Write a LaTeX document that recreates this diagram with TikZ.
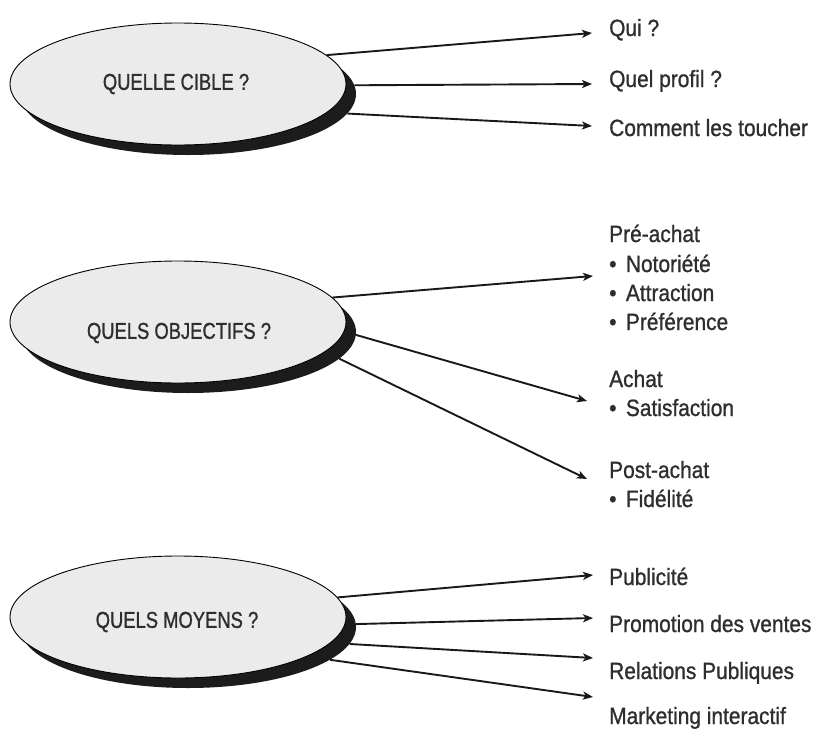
\documentclass[tikz,border=0pt]{standalone}
\usepackage{fontspec}
\setmainfont{Liberation Sans}[FakeStretch=0.89,FakeBold=1.0]
\newfontfamily\titlefont{Liberation Sans}[FakeStretch=0.8,FakeBold=1.0]
\usetikzlibrary{shapes.geometric,arrows.meta,backgrounds}
\definecolor{bubble}{HTML}{EBEBEB}
\definecolor{shade}{HTML}{1C1C1C}
\definecolor{ink}{HTML}{2E2E2E}
\begin{document}
\begin{tikzpicture}[x=1pt,y=-1pt,
  bubble/.style={ellipse,draw=black,line width=0.9pt,fill=bubble,
    minimum width=336pt,minimum height=122pt,inner sep=0pt},
  bubbleshade/.style={ellipse,fill=shade,
    minimum width=336pt,minimum height=122pt,inner sep=0pt},
  title/.style={font=\titlefont\fontsize{23}{26}\selectfont,text=ink,inner sep=0pt},
  item/.style={anchor=base west,font=\fontsize{23.5}{27}\selectfont,text=ink,inner sep=0pt},
  link/.style={line width=1.9pt,draw=black!90,
    -{Stealth[length=10pt,width=8pt,inset=2.5pt]}}]
\useasboundingbox (0,0) rectangle (822,731);
\def\gap{\hspace{0.4em}}

% --- Quelle cible ---
\node[bubbleshade] (cibleS) at (188,94) {};
\node[bubble] (cible) at (178,84) {};
\node[title] (cibleT) at (176,84) {QUELLE CIBLE ?};
\node[item] (qui) at (609,36) {Qui ?};
\node[item] (profil) at (609,87) {Quel profil ?};
\node[item] (toucher) at (609,136) {Comment les toucher};
\coordinate (e11) at (592,33);
\coordinate (e12) at (592,84);
\coordinate (e13) at (592,126);

% --- Quels objectifs ---
\node[bubbleshade] (objS) at (188,332) {};
\node[bubble] (obj) at (178,322) {};
\node[title] (objT) at (179,333) {QUELS OBJECTIFS ?};
\node[item] (pre) at (609,242) {Pré-achat};
\node[item] (noto) at (609,272) {•\gap Notoriété};
\node[item] (attr) at (609,301) {•\gap Attraction};
\node[item] (pref) at (609,330) {•\gap Préférence};
\node[item] (achat) at (609,387) {Achat};
\node[item] (satis) at (609,416) {•\gap Satisfaction};
\node[item] (post) at (609,478) {Post-achat};
\node[item] (fide) at (609,507) {•\gap Fidélité};
\coordinate (e21) at (593,276);
\coordinate (e22) at (587,401);
\coordinate (e23) at (587,479);

% --- Quels moyens ---
\node[bubbleshade] (moyS) at (188,627) {};
\node[bubble] (moy) at (178,617) {};
\node[title] (moyT) at (177,622) {QUELS MOYENS ?};
\node[item] (pub) at (609,585) {Publicité};
\node[item] (promo) at (609,632) {Promotion des ventes};
\node[item] (rp) at (609,679) {Relations Publiques};
\node[item] (mkt) at (609,724) {Marketing interactif};
\coordinate (e31) at (593,575);
\coordinate (e32) at (593,618);
\coordinate (e33) at (593,658);
\coordinate (e34) at (593,697);

% connectors run underneath the bubbles
\begin{scope}[on background layer]
  \draw[link] (cible.11.5) -- (e11);
  \draw[link] (cibleS.3.8) -- (e12);
  \draw[link] (cibleS.-7.4) -- (e13);
  \draw[link] (obj.9.2) -- (e21);
  \draw[link] (objS.-1) -- (e22);
  \draw[link] (objS.-10.3) -- (e23);
  \draw[link] (moy.7.9) -- (e31);
  \draw[link] (moyS.1.7) -- (e32);
  \draw[link] (moyS.-6.6) -- (e33);
  \draw[link] (moyS.-13.2) -- (e34);
\end{scope}
\end{tikzpicture}
\end{document}
